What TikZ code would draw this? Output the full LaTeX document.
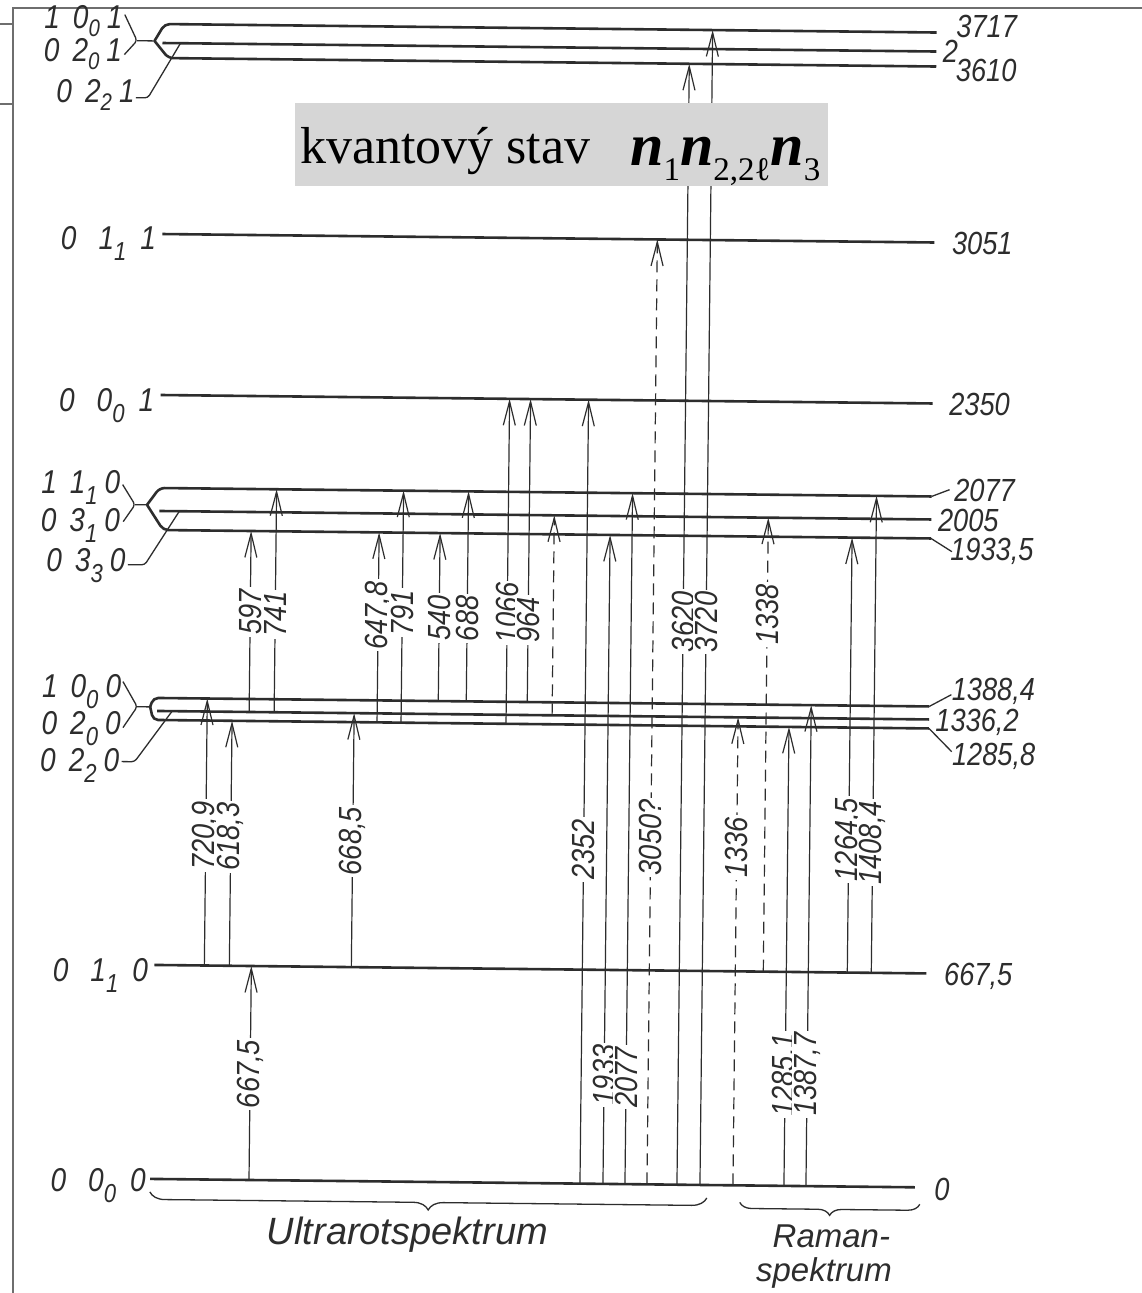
\documentclass[tikz,border=0pt]{standalone}
\usepackage{fontspec}
\setmainfont{Liberation Serif}
\newfontfamily\labf[FakeStretch=0.85]{Liberation Sans}
\newfontfamily\labw{Liberation Sans}
\usetikzlibrary{arrows.meta,decorations.pathreplacing}
\definecolor{ink}{RGB}{45,45,45}
\definecolor{boxgray}{RGB}{214,214,214}
\definecolor{framegray}{RGB}{110,110,110}
\newcommand\sbx[1]{\raisebox{-11pt}{\fontsize{26}{26}\selectfont #1}}
\newcommand\sbt[1]{\raisebox{-8pt}{\fontsize{24}{24}\selectfont #1}}
\newcommand\ql[4]{#1\hspace{13pt}#2\sbx{#3}\hspace{7pt}#4}
\newcommand\qt[4]{#1\hspace{13pt}#2\sbt{#3}\hspace{7pt}#4}
\newcommand\qw[4]{#1\hspace{22pt}#2\sbx{#3}\hspace{14pt}#4}
\newcommand\sbn[1]{\raisebox{-15pt}{\fontsize{33}{33}\selectfont\mdseries\upshape #1}}
% level heights (unrotated frame)
\def\yA{24}   % 3717
\def\yB{43}   % 2
\def\yC{58}   % 3610
\def\yD{234}  % 3051
\def\yE{395}  % 2350
\def\yF{488}  % 2077
\def\yG{511}  % 2005
\def\yH{530}  % 1933,5
\def\yI{698}  % 1388,4
\def\yJ{711}  % 1336,2
\def\yK{720}  % 1285,8
\def\yL{965}  % 667,5
\def\yM{1179} % 0
\tikzset{
  level/.style={draw=ink, line width=2.6pt, rounded corners=5pt},
  fork/.style={draw=ink, line width=1.3pt, rounded corners=3pt},
  arr/.style={draw=ink, line width=1.2pt, -{Straight Barb[length=24pt,width=12pt]}},
  darr/.style={arr, dash pattern=on 12pt off 7pt},
  vlab/.style={font=\labf\itshape\fontsize{32}{32}\selectfont, text=ink, rotate=90, fill=white, inner sep=2pt},
  llab/.style={font=\labf\itshape\fontsize{33}{33}\selectfont, text=ink, anchor=base east, inner sep=0pt},
  rlab/.style={font=\labf\itshape\fontsize{32}{32}\selectfont, text=ink, inner sep=0pt},
  brc/.style={draw=ink, line width=1.3pt, decorate},
}
\begin{document}
\begin{tikzpicture}[x=1pt,y=-1pt]
\useasboundingbox (0,0) rectangle (1142,1293);
\fill[white] (0,0) rectangle (1142,1293);
% frame
\draw[framegray, line width=2pt] (13,1293) -- (13,8) -- (1142,8);
\draw[framegray, line width=1.5pt] (0,24) -- (13,24) (0,104) -- (13,104);

\begin{scope}[rotate around={-0.63:(160,1180)}]
% ---- top group 3717 / 2 / 3610
\draw[fork] (112,15) -- (124.5,41) -- (112,55);
\draw[fork] (124.5,41) -- (142,41);
\draw[level] (142,41) -- (152,\yA) -- (924,\yA);
\draw[level] (142,41) -- (156,\yC) -- (924,\yC);
\draw[level] (150,\yB) -- (924,\yB);
\draw[fork] (124,98) -- (136,98) -- (168,\yB);
% ---- single levels
\draw[level] (152,\yD) -- (924,\yD);
\draw[level] (152,\yE) -- (924,\yE);
% ---- group 2077 / 2005 / 1933,5
\draw[fork] (115,485) -- (127.6,505) -- (116,522);
\draw[fork] (127.6,505) -- (139.6,505);
\draw[level] (139.6,505) -- (152,\yF) -- (924,\yF);
\draw[level] (139.6,505) -- (156,\yH) -- (924,\yH);
\draw[level] (152,\yG) -- (924,\yG);
\draw[fork] (121,565) -- (138,565) -- (172,\yG);
% ---- group 1388,4 / 1336,2 / 1285,8
\draw[fork] (117.5,682) -- (132,707) -- (118,728);
\draw[fork] (132,707) -- (145,707);
\draw[level] (145,707) -- (148,\yI) -- (924,\yI);
\draw[level] (145,707) -- (148,\yK) -- (924,\yK);
\draw[level] (152,\yJ) -- (924,\yJ);
\draw[fork] (117,762) -- (130,762) -- (167,\yJ);
% ---- 667,5 and 0
\draw[level] (152,\yL) -- (924,\yL);
\draw[level] (150,\yM) -- (915,\yM);

% ---- right ticks
\draw[fork] (924,\yF) -- (942,481);
\draw[fork] (924,\yH) -- (945,543);
\draw[fork] (924,\yI) -- (946,686);
\draw[fork] (924,\yK) -- (947,743);

% ---- transitions
\draw[arr] (249,\yM) -- (249,\yL);
\draw[arr] (202,\yL) -- (202,\yI);
\draw[arr] (227,\yL) -- (227,\yK);
\draw[arr] (349,\yL) -- (349,\yJ);
\draw[arr] (244,\yJ) -- (244,\yH);
\draw[arr] (269,\yJ) -- (269,\yF);
\draw[arr] (372,\yK) -- (372,\yH);
\draw[arr] (396,\yK) -- (396,\yF);
\draw[arr] (433,\yI) -- (433,\yH);
\draw[arr] (461,\yI) -- (461,\yF);
\draw[arr] (501,\yK) -- (501,\yE);
\draw[arr] (522,\yI) -- (522,\yE);
\draw[darr] (547,\yJ) -- (547,\yG);
\draw[arr] (580,\yM) -- (580,\yE);
\draw[arr] (603,\yM) -- (603,\yH);
\draw[arr] (625,\yM) -- (625,\yF);
\draw[darr] (647,\yM) -- (647,\yD);
\draw[arr] (677,\yM) -- (677,\yC);
\draw[arr] (700,\yM) -- (700,\yA);
\draw[darr] (733,\yM) -- (733,\yJ);
\draw[darr] (761,\yL) -- (761,\yG);
\draw[arr] (784,\yM) -- (784,\yK);
\draw[arr] (806,\yM) -- (806,\yI);
\draw[arr] (845,\yL) -- (845,\yH);
\draw[arr] (869,\yL) -- (869,\yF);

% ---- transition labels
\node[vlab] (t1) at (249,1073) {667,5};
\node[vlab] (t2) at (202,835) {720,9};
\node[vlab] (t3) at (227,836) {618,3};
\node[vlab] (t4) at (349,839) {668,5};
\node[vlab] (t5) at (244,611) {597};
\node[vlab] (t6) at (269,613) {741};
\node[vlab] (t7) at (372,613) {647,8};
\node[vlab] (t8) at (396,610) {791};
\node[vlab] (t9) at (433,615) {540};
\node[vlab] (t10) at (461,615) {688};
\node[vlab] (t11) at (501,609) {1066};
\node[vlab] (t12) at (522,616) {964};
\node[vlab] (t14) at (580,845) {2352};
\node[vlab] (t15) at (603,1070) {1933};
\node[vlab] (t16) at (625,1072) {2077};
\node[vlab] (t17) at (647,832) {3050?};
\node[vlab] (t18) at (677,616) {3620};
\node[vlab] (t19) at (700,616) {3720};
\node[vlab] (t20) at (733,841) {1336};
\node[vlab] (t21) at (761,608) {1338};
\node[vlab] (t22) at (784,1068) {1285,1};
\node[vlab] (t23) at (806,1067) {1387,7};
\node[vlab] (t24) at (845,832) {1264,5};
\node[vlab] (t25) at (869,835) {1408,4};

% ---- left state labels
\node[llab] (s1) at (110,29) {\qt{1}{0}{0}{1}};
\node[llab] (s2) at (110,62) {\qt{0}{2}{0}{1}};
\node[llab] (s3) at (123,103) {\qt{0}{2}{2}{1}};
\node[llab] (s4) at (146,250) {\qw{0}{1}{1}{1}};
\node[llab] (s5) at (146,412) {\qw{0}{0}{0}{1}};
\node[llab] (s6) at (113,494) {\ql{1}{1}{1}{0}};
\node[llab] (s7) at (113,532) {\ql{0}{3}{1}{0}};
\node[llab] (s8) at (119,572) {\ql{0}{3}{3}{0}};
\node[llab] (s9) at (116,698) {\ql{1}{0}{0}{0}};
\node[llab] (s10) at (116,735) {\ql{0}{2}{0}{0}};
\node[llab] (s11) at (115,772) {\ql{0}{2}{2}{0}};
\node[llab] (s12) at (146,982) {\qw{0}{1}{1}{0}};
\node[llab] (s13) at (146,1192) {\qw{0}{0}{0}{0}};

% ---- right energy labels
\node[rlab] (e1) at (974,17) {3717};
\node[rlab] (e2) at (938,43) {2};
\node[rlab] (e3) at (974,61) {3610};
\node[rlab] (e4) at (972,234) {3051};
\node[rlab] (e5) at (971,395) {2350};
\node[rlab] (e6) at (977,481) {2077};
\node[rlab] (e7) at (961,512) {2005};
\node[rlab] (e8) at (985,542) {1933,5};
\node[rlab] (e9) at (988,682) {1388,4};
\node[rlab] (e10) at (972,713) {1336,2};
\node[rlab] (e11) at (989,747) {1285,8};
\node[rlab] (e12) at (976,967) {667,5};
\node[rlab] (e13) at (942,1181) {0};

% ---- braces and spectrum names
\draw[brc, decoration={brace, mirror, amplitude=15pt}] (150,1192) -- (707,1192);
\draw[brc, decoration={brace, mirror, amplitude=12pt}] (740,1196) -- (920,1196);
\node[font=\labw\itshape\fontsize{38}{38}\selectfont, text=ink] (ir) at (408,1232) {Ultrarotspektrum};
\node[font=\labw\itshape\fontsize{33}{33}\selectfont, text=ink] (ra1) at (832,1229) {Raman-};
\node[font=\labw\itshape\fontsize{33}{33}\selectfont, text=ink] (ra2) at (825,1266) {spektrum};
\end{scope}

% ---- grey caption box
\fill[boxgray] (295,103) rectangle (828,186);
\node[anchor=base west, inner sep=0pt, font=\fontsize{52}{52}\selectfont] (cap) at (300,163) {kvantový stav};
\node[anchor=base west, inner sep=0pt] (qn) at (630,165) {\fontsize{60}{60}\selectfont\bfseries\itshape n\sbn{1}n\sbn{2,2ℓ}n\sbn{3}};
\end{tikzpicture}
\end{document}
